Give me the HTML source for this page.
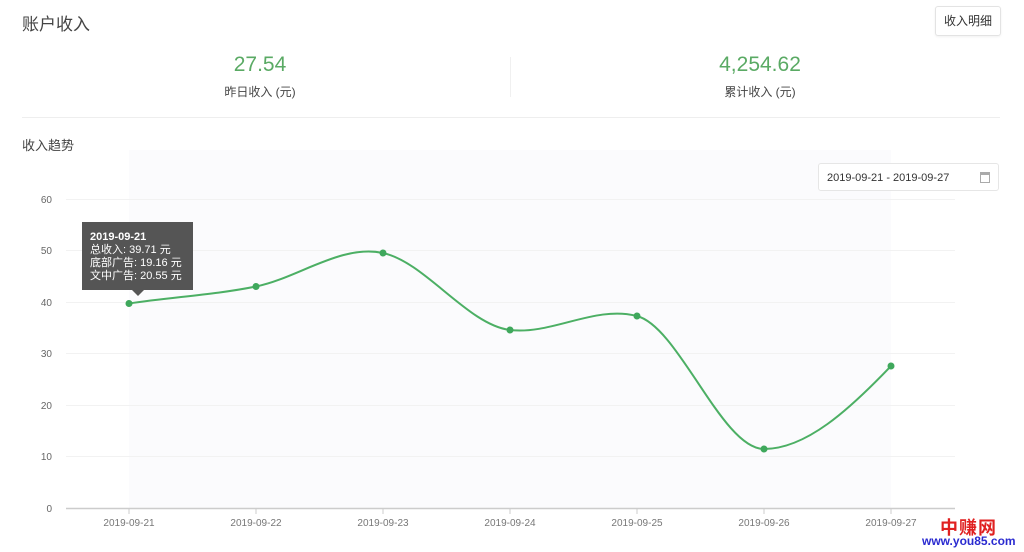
<!DOCTYPE html>
<html><head><meta charset="utf-8"><style>
body{margin:0;width:1024px;height:552px;background:#fff;font-family:"Liberation Sans","Noto Sans CJK SC",sans-serif;overflow:hidden;position:relative}
.a{position:absolute}
</style></head><body>
<svg class="a" style="left:0;top:0" width="1024" height="552">
<rect x="129" y="150" width="762" height="358" fill="#fbfbfd"/>
<g stroke="#f2f2f2" stroke-width="1">
<line x1="66" y1="199.5" x2="955" y2="199.5"/><line x1="66" y1="250.5" x2="955" y2="250.5"/><line x1="66" y1="302.5" x2="955" y2="302.5"/><line x1="66" y1="353.5" x2="955" y2="353.5"/><line x1="66" y1="405.5" x2="955" y2="405.5"/><line x1="66" y1="456.5" x2="955" y2="456.5"/>
</g>
<line x1="66" y1="508.5" x2="955" y2="508.5" stroke="#ccc" stroke-width="1.5"/>
<g stroke="#ccc"><line x1="129" y1="509" x2="129" y2="514"/><line x1="256" y1="509" x2="256" y2="514"/><line x1="383" y1="509" x2="383" y2="514"/><line x1="510" y1="509" x2="510" y2="514"/><line x1="637" y1="509" x2="637" y2="514"/><line x1="764" y1="509" x2="764" y2="514"/><line x1="891" y1="509" x2="891" y2="514"/></g>
<g font-size="10" fill="#666" text-anchor="end" font-family="Liberation Sans,sans-serif">
<text x="52" y="203">60</text><text x="52" y="254">50</text><text x="52" y="306">40</text><text x="52" y="357">30</text><text x="52" y="409">20</text><text x="52" y="460">10</text><text x="52" y="512">0</text></g>
<g font-size="10" fill="#777" text-anchor="middle" font-family="Liberation Sans,sans-serif">
<text x="129" y="526">2019-09-21</text><text x="256" y="526">2019-09-22</text><text x="383" y="526">2019-09-23</text><text x="510" y="526">2019-09-24</text><text x="637" y="526">2019-09-25</text><text x="764" y="526">2019-09-26</text><text x="891" y="526">2019-09-27</text></g>
<path d="M129,303.5 C171,297 214,295 256,286.5 C298,278 341,244 383,253 C425,262 468,325 510,330 C552,335 595,305 637,316 C679,327 722,449 764,449 C806,449 849,410 891,366" fill="none" stroke="#4caf64" stroke-width="2"/>
<g fill="#3fa85c"><circle cx="129" cy="303.5" r="3.5"/><circle cx="256" cy="286.5" r="3.5"/><circle cx="383" cy="253" r="3.5"/><circle cx="510" cy="330" r="3.5"/><circle cx="637" cy="316" r="3.5"/><circle cx="764" cy="449" r="3.5"/><circle cx="891" cy="366" r="3.5"/></g>
<rect x="82" y="222" width="111" height="68" fill="#555"/>
<path d="M132,290 L138,296 L144,290Z" fill="#555"/>
<g fill="#fff" font-size="11" font-family="Liberation Sans,Noto Sans CJK SC,sans-serif">
<text x="90" y="240" font-weight="bold">2019-09-21</text>
<text x="90" y="253">总收入: 39.71 元</text>
<text x="90" y="266">底部广告: 19.16 元</text>
<text x="90" y="279">文中广告: 20.55 元</text></g>
</svg>
<div class="a" style="left:22px;top:10px;font-size:17px;color:#444">账户收入</div>
<div class="a" style="left:935px;top:6px;width:64px;height:28px;border:1px solid #e3e3e3;border-radius:3px;box-shadow:0 1px 2px rgba(0,0,0,.06);font-size:12px;color:#333;line-height:28px;text-align:center">收入明细</div>
<div class="a" style="left:160px;top:53px;width:200px;text-align:center;font-size:21px;color:#5aaa64">27.54</div>
<div class="a" style="left:160px;top:83px;width:200px;text-align:center;font-size:12px;color:#444">昨日收入 (元)</div>
<div class="a" style="left:660px;top:53px;width:200px;text-align:center;font-size:21px;color:#5aaa64">4,254.62</div>
<div class="a" style="left:660px;top:83px;width:200px;text-align:center;font-size:12px;color:#444">累计收入 (元)</div>
<div class="a" style="left:510px;top:57px;width:1px;height:40px;background:#f0f0f0"></div>
<div class="a" style="left:22px;top:117px;width:978px;height:1px;background:#eee"></div>
<div class="a" style="left:22px;top:135px;font-size:13px;color:#444">收入趋势</div>
<div class="a" style="left:818px;top:163px;width:181px;height:28px;background:#fff;border:1px solid #e6e6e6;border-radius:3px;font-size:11px;color:#333;line-height:28px;padding-left:8px;box-sizing:border-box">2019-09-21 - 2019-09-27<span style="position:absolute;right:8px;top:8px;width:10px;height:11px;border:1px solid #aaa;box-sizing:border-box;border-top-width:3px"></span></div>
<div class="a" style="left:940px;top:514px;font-size:18px;font-weight:bold;color:#e02020;letter-spacing:1px">中赚网</div>
<div class="a" style="left:922px;top:534px;font-size:12px;font-weight:bold;color:#2a2ad0">www.you85.com</div>
</body></html>
